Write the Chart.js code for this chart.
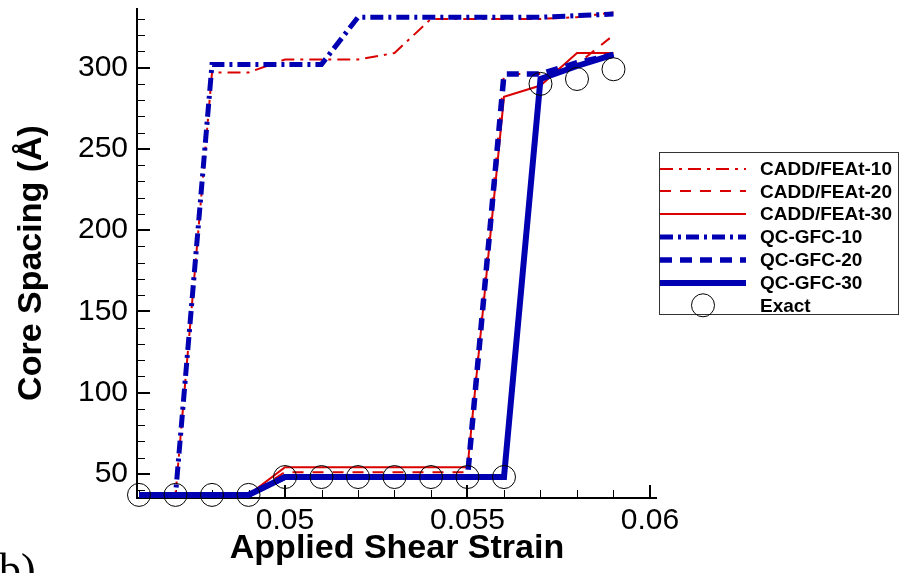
<!DOCTYPE html>
<html>
<head>
<meta charset="utf-8">
<script src="https://cdn.jsdelivr.net/npm/chart.js@4.4.1/dist/chart.umd.min.js"></script>
<style>
  html, body { margin: 0; padding: 0; background: #fff; }
  #wrap { width: 902px; height: 573px; }
</style>
</head>
<body>
<div id="wrap"><canvas id="chart" width="902" height="573"></canvas></div>
<script>
// applied shear strain for every sample
var strain = [0.046, 0.047, 0.048, 0.049, 0.050, 0.051, 0.052, 0.053, 0.054, 0.055, 0.056, 0.057, 0.058, 0.059];

// core spacing (Angstrom)
var cadd10 = [37, 37, 297, 297, 305, 305, 305, 309, 330, 330, 330, 330, 331, 334];
var cadd20 = [37, 37, 37, 37, 51, 51, 51, 51, 51, 51, 296, 296, 302, 320];
var cadd30 = [37, 37, 37, 37, 54, 54, 54, 54, 54, 54, 282, 289, 309, 309];
var qc10   = [37, 37, 302, 302, 302, 302, 331, 331, 331, 331, 331, 331, 332, 333];
var qc20   = [37, 37, 37, 37, 48, 48, 48, 48, 48, 48, 296, 296, 303, 308];
var qc30   = [37, 37, 37, 37, 48, 48, 48, 48, 48, 48, 48, 293, 301, 308];
var exact  = [37, 37, 37, 37, 48, 48, 48, 48, 48, 48, 48, 290, 293, 299];

var labels = ['CADD/FEAt-10', 'CADD/FEAt-20', 'CADD/FEAt-30', 'QC-GFC-10', 'QC-GFC-20', 'QC-GFC-30', 'Exact'];

// tick labels
var xTicks = [0.05, 0.055, 0.06];
var yTicks = [50, 100, 150, 200, 250, 300];

var RED = 'rgb(218,0,0)';
var BLUE = 'rgb(0,0,178)';
var FONT = '"Liberation Sans", Arial, sans-serif';

function pts(ys) {
    return strain.map(function (x, i) { return {x: x, y: ys[i]}; });
}

// minor ticks for the inward tick marks
var xMinor = [], yMinor = [];
for (var i = 46; i <= 60; i++) xMinor.push(i / 1000);
for (var j = 40; j <= 330; j += 10) yMinor.push(j);

var tecAxes = {
    id: 'tecAxes',
    beforeDatasetsDraw: function (chart) {
        var ctx = chart.ctx, a = chart.chartArea;
        var xs = chart.scales.x, ys = chart.scales.y;
        ctx.save();
        ctx.strokeStyle = '#000';
        ctx.lineWidth = 1;
        ctx.beginPath();
        yMinor.forEach(function (v) {
            var p = Math.round(ys.getPixelForValue(v)) + 0.5;
            ctx.moveTo(a.left, p); ctx.lineTo(a.left + 8, p);
        });
        xMinor.forEach(function (v) {
            var p = Math.round(xs.getPixelForValue(v)) + 0.5;
            ctx.moveTo(p, a.bottom); ctx.lineTo(p, a.bottom - 8);
        });
        ctx.stroke();
        ctx.lineWidth = 2;
        ctx.beginPath();
        yTicks.forEach(function (v) {
            var p = Math.round(ys.getPixelForValue(v));
            ctx.moveTo(a.left, p); ctx.lineTo(a.left + 13, p);
        });
        xTicks.forEach(function (v) {
            var p = Math.round(xs.getPixelForValue(v));
            ctx.moveTo(p, a.bottom); ctx.lineTo(p, a.bottom - 13);
        });
        ctx.moveTo(a.left, a.top);
        ctx.lineTo(a.left, a.bottom);
        ctx.lineTo(a.right, a.bottom);
        ctx.stroke();
        ctx.restore();
    },
    afterDraw: function (chart) {
        var ctx = chart.ctx;
        ctx.save();
        // y axis title, placed by hand so it sits a bit below the middle
        ctx.save();
        ctx.translate(32, 263);
        ctx.rotate(-Math.PI / 2);
        ctx.font = 'bold 34px ' + FONT;
        ctx.textAlign = 'center';
        ctx.textBaseline = 'middle';
        ctx.fillStyle = '#000';
        ctx.fillText('Core Spacing (Å)', 0, 0);
        ctx.restore();

        // legend box
        ctx.strokeStyle = '#333';
        ctx.lineWidth = 1;
        ctx.strokeRect(659.5, 152.5, 239, 162);
        var ds = chart.data.datasets;
        ctx.font = 'bold 19px ' + FONT;
        ctx.textBaseline = 'middle';
        ctx.fillStyle = '#000';
        for (var k = 0; k < ds.length; k++) {
            var y = 168.5 + k * 22.8;
            var d = ds[k];
            if (d.showLine === false) {
                ctx.beginPath();
                ctx.lineWidth = 1;
                ctx.strokeStyle = '#000';
                ctx.setLineDash([]);
                ctx.arc(703, y, 11.5, 0, Math.PI * 2);
                ctx.stroke();
            } else {
                ctx.beginPath();
                ctx.lineWidth = d.borderWidth;
                ctx.strokeStyle = d.borderColor;
                ctx.setLineDash(d.borderDash || []);
                ctx.moveTo(660, Math.round(y));
                ctx.lineTo(746, Math.round(y));
                ctx.stroke();
            }
            ctx.setLineDash([]);
            ctx.fillText(d.label, 760, y + 1);
        }
        // panel letter
        ctx.font = '44px "Liberation Serif", serif';
        ctx.textBaseline = 'alphabetic';
        ctx.fillText('b)', -1, 584);
        ctx.restore();
    }
};

var ctx = document.getElementById('chart').getContext('2d');
var chart = new Chart(ctx, {
    type: 'line',
    data: {
        datasets: [
            {label: labels[0], data: pts(cadd10), borderColor: RED, borderWidth: 2, borderDash: [13, 6, 3, 6], order: 2},
            {label: labels[1], data: pts(cadd20), borderColor: RED, borderWidth: 2, borderDash: [11, 9], order: 2},
            {label: labels[2], data: pts(cadd30), borderColor: RED, borderWidth: 2, order: 2},
            {label: labels[3], data: pts(qc10), borderColor: BLUE, borderWidth: 5, borderDash: [13, 5, 3, 5], order: 1},
            {label: labels[4], data: pts(qc20), borderColor: BLUE, borderWidth: 5.5, borderDash: [12, 8], order: 1},
            {label: labels[5], data: pts(qc30), borderColor: BLUE, borderWidth: 6, order: 1},
            {label: labels[6], data: pts(exact), showLine: false, pointRadius: 11.5, pointBorderWidth: 1,
             pointBorderColor: '#000', pointBackgroundColor: 'rgba(0,0,0,0)', borderColor: '#000', order: 0}
        ]
    },
    options: {
        responsive: false,
        animation: false,
        devicePixelRatio: 1,
        clip: false,
        elements: {
            line: {tension: 0, fill: false, borderCapStyle: 'butt'},
            point: {radius: 0, hoverRadius: 0}
        },
        layout: {autoPadding: false, padding: {left: 0, right: 245, top: 8, bottom: 0}},
        plugins: {legend: {display: false}, tooltip: {enabled: false}},
        scales: {
            x: {
                type: 'linear',
                min: 0.045945,
                max: 0.060192,
                grid: {display: false, drawTicks: false},
                border: {display: false},
                afterBuildTicks: function (s) { s.ticks = xTicks.map(function (v) { return {value: v}; }); },
                afterFit: function (s) { s.height = 75; s.paddingLeft = 0; s.paddingRight = 0; },
                ticks: {
                    padding: 5,
                    color: '#000',
                    maxRotation: 0,
                    font: {family: FONT, size: 30},
                    callback: function (v) { return String(v); }
                },
                title: {
                    display: true,
                    text: 'Applied Shear Strain',
                    color: '#000',
                    padding: {top: 0, bottom: 7},
                    font: {family: FONT, size: 34, weight: 'bold', lineHeight: 1}
                }
            },
            y: {
                min: 35.1,
                max: 336.7,
                grid: {display: false, drawTicks: false},
                border: {display: false},
                afterBuildTicks: function (s) { s.ticks = yTicks.map(function (v) { return {value: v}; }); },
                afterFit: function (s) { s.width = 137; s.paddingTop = 0; s.paddingBottom = 0; },
                ticks: {
                    padding: 9,
                    color: '#000',
                    font: {family: FONT, size: 30}
                },
                title: {display: false}
            }
        }
    },
    plugins: [tecAxes]
});
</script>
</body>
</html>
